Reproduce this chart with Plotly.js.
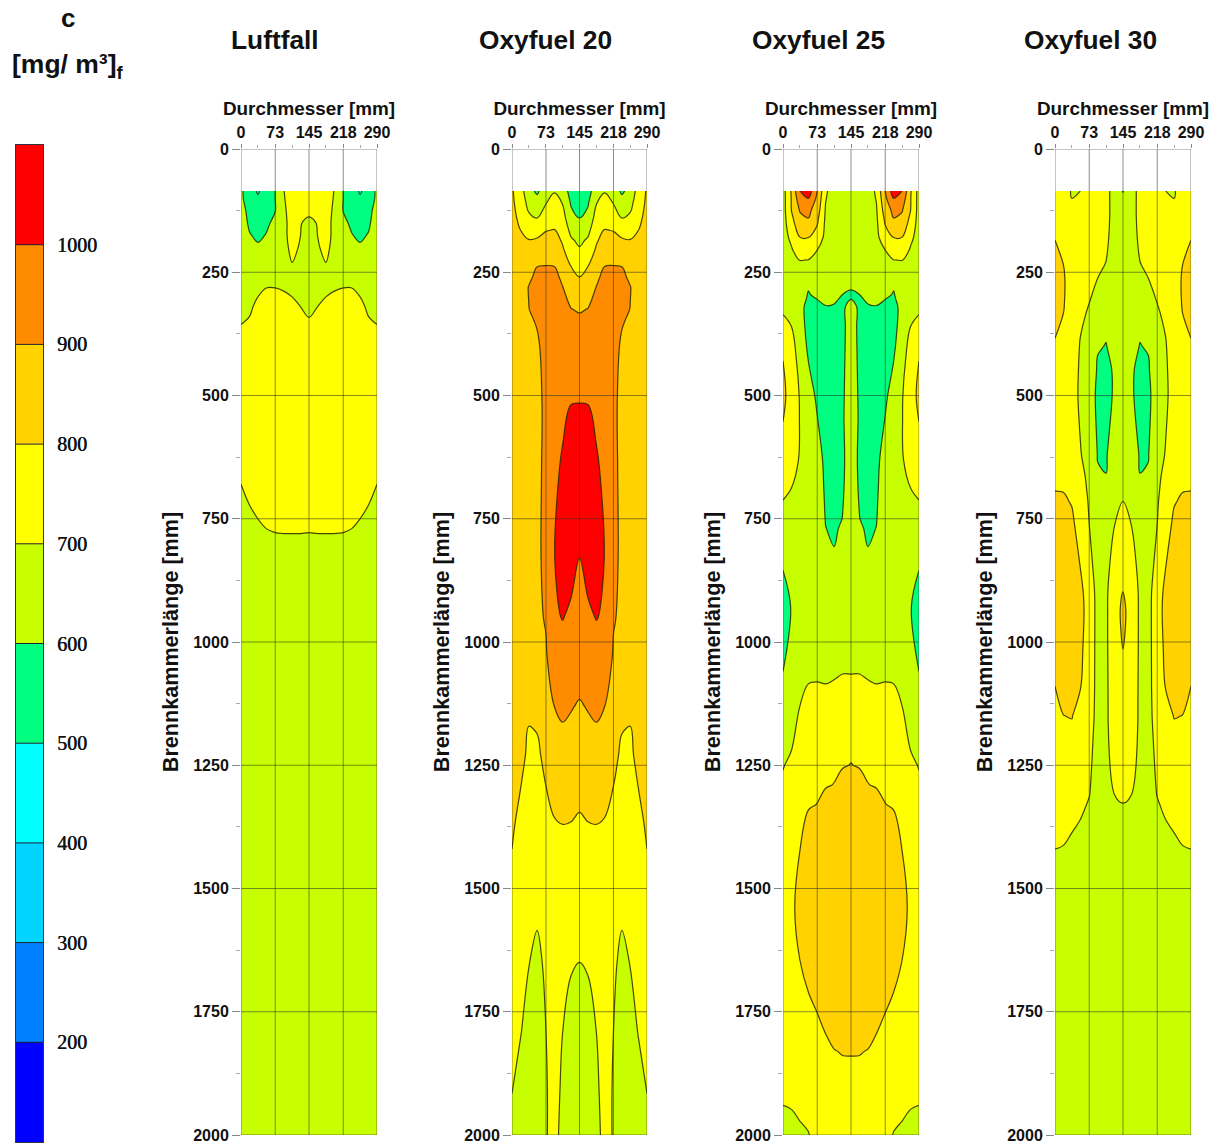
<!DOCTYPE html>
<html><head><meta charset="utf-8">
<script src="https://cdn.plot.ly/plotly-3.0.1.min.js"></script>
<style>html,body{margin:0;padding:0;background:#fff}#c{width:1216px;height:1144px}</style></head>
<body><div id="c"></div>
<script>
const panelTitles = ["Luftfall","Oxyfuel 20","Oxyfuel 25","Oxyfuel 30"];
const diameter = [0,18,36,54,73,91,109,127,145,163,181,199,218,236,254,272,290];
const xMajor = [0,73,145,218,290];
const xMinor = [36,109,181,254];
const yMajor = [0,250,500,750,1000,1250,1500,1750,2000];
const yMinor = [125,375,625,875,1125,1375,1625,1875];
const levels = [200,300,400,500,600,700,800,900,1000];
const bandMid = [150,250,350,450,550,650,750,850,950,1050];
const bandColors = ["#0000ff","#0080ff","#00d4ff","#00ffff","#00ff80","#c8ff00","#ffff00","#ffd200","#ff8c00","#ff0000"];

const lenLuft = [85,100,125,150,175,200,230,260,280,300,320,340,360,400,600,680,720,750,780,820,1000,2000];
const zLuft = [
[620,540,490,540,600,698,730,740,740,740,730,698,600,540,490,540,620],
[620,545,510,545,600,695,730,735,735,735,730,695,600,545,510,545,620],
[640,570,540,570,597,695,712,715,710,715,712,695,597,570,540,570,640],
[650,585,560,585,620,690,715,702,690,702,715,690,620,585,560,585,650],
[660,606,584,604,640,690,715,700,670,700,715,690,640,604,584,606,660],
[665,640,612,632,650,685,712,695,660,695,712,685,650,632,612,640,665],
[670,660,640,650,660,675,700,680,650,680,700,675,660,650,640,660,670],
[675,675,675,670,665,660,650,640,630,640,650,660,665,670,675,675,675],
[680,682,690,699,699,695,685,670,660,670,685,695,699,699,690,682,680],
[685,688,700,710,710,707,700,688,675,688,700,707,710,710,700,688,685],
[690,694,708,718,720,716,712,700,690,700,712,716,720,718,708,694,690],
[696,700,714,724,726,722,720,712,699,712,720,722,726,724,714,700,696],
[701,706,720,730,730,728,725,720,712,720,725,728,730,730,720,706,701],
[715,720,730,735,735,735,735,735,730,735,735,735,735,735,730,720,715],
[720,730,735,740,740,740,740,740,740,740,740,740,740,740,735,730,720],
[700,715,722,730,730,732,732,732,732,732,732,732,730,730,722,715,700],
[680,701,710,720,722,724,724,724,724,724,724,724,722,720,710,701,680],
[670,685,700,712,715,716,716,716,716,716,716,716,715,712,700,685,670],
[660,670,680,694,699,700,700,700,699,700,700,700,699,694,680,670,660],
[640,645,650,660,660,660,660,660,660,660,660,660,660,660,650,645,640],
[650,650,650,650,650,650,650,650,650,650,650,650,650,650,650,650,650],
[650,650,650,650,650,650,650,650,650,650,650,650,650,650,650,650,650]];

const len20 = [85,110,140,165,185,200,240,260,280,325,350,400,520,650,830,950,1030,1130,1165,1230,1300,1370,1420,1500,1585,1650,1790,1910,2000];
const z20 = [
[810,745,630,585,650,695,640,570,530,570,640,695,650,585,630,745,810],
[815,762,670,635,698,725,697,590,565,590,697,725,698,635,670,762,815],
[820,785,718,700,750,770,735,630,600,630,735,770,750,700,718,785,820],
[825,801,765,765,797,804,765,675,640,675,765,804,797,765,765,801,825],
[830,815,803,810,825,830,790,712,680,712,790,830,825,810,803,815,830],
[835,825,825,840,850,850,805,735,703,735,805,850,850,840,825,825,835],
[840,850,870,902,905,903,855,802,770,802,855,903,905,902,870,850,840],
[845,860,888,915,925,930,878,830,801,830,878,930,925,915,888,860,845],
[850,870,902,920,930,945,901,855,830,855,901,945,930,920,902,870,850],
[855,875,899,915,930,950,930,902,893,902,930,950,930,915,899,875,855],
[855,875,890,905,930,950,945,915,915,915,945,950,930,905,890,875,855],
[860,875,885,890,925,955,960,950,950,950,960,955,925,890,885,875,860],
[870,880,890,885,912,965,985,1001,1002,1001,985,965,912,885,890,880,870],
[870,880,890,885,915,985,1010,1030,1025,1030,1010,985,915,885,890,880,870],
[870,880,890,892,910,999,1020,1030,1000,1030,1020,999,910,892,890,880,870],
[870,880,885,888,905,990,1003,985,975,985,1003,990,905,888,885,880,870],
[860,870,865,865,893,945,965,950,945,950,965,945,893,865,865,870,860],
[845,840,815,825,840,901,915,905,893,905,915,901,840,825,815,840,845],
[840,830,801,805,830,880,899,890,875,890,899,880,830,805,801,830,840],
[830,815,790,790,815,845,865,860,845,860,865,845,815,790,790,815,830],
[818,800,780,780,798,820,830,825,815,825,830,820,798,780,780,800,818],
[808,785,770,770,780,795,800,798,792,798,800,795,780,770,770,785,808],
[800,775,760,755,770,780,785,780,780,780,785,780,770,755,760,775,800],
[785,755,740,730,750,760,765,755,750,755,765,760,750,730,740,755,785],
[765,740,720,700,730,740,745,730,720,730,745,740,730,700,720,740,765],
[750,730,702,680,715,730,730,707,700,707,730,730,715,680,702,730,750],
[725,703,680,665,700,715,700,670,660,670,700,715,700,665,680,703,725],
[701,680,660,650,698,710,695,650,645,650,695,710,698,650,660,680,701],
[685,670,650,645,698,710,690,645,640,645,690,710,698,645,650,670,685]];

const len25 = [85,100,125,140,155,180,205,225,250,285,295,305,320,360,430,500,545,630,690,712,750,770,810,855,930,1060,1085,1130,1220,1250,1290,1330,1430,1540,1645,1710,1750,1795,1830,1940,1975,2000];
const z25 = [
[660,810,1000,1060,900,715,650,650,650,650,650,715,900,1060,1000,810,660],
[660,805,960,1000,880,705,650,650,650,650,650,705,880,1000,960,805,660],
[660,800,905,925,845,690,650,650,650,650,650,690,845,925,905,800,660],
[660,779,880,900,820,685,650,650,650,650,650,685,820,900,880,779,660],
[660,757,858,875,799,680,650,650,650,650,650,680,799,875,858,757,660],
[660,721,797,799,765,670,650,650,650,650,650,670,765,799,797,721,660],
[660,690,750,755,700,665,650,650,650,650,650,665,700,755,750,690,660],
[665,675,702,699,690,660,650,650,650,650,650,660,690,699,702,675,665],
[670,665,670,660,670,650,645,640,635,640,645,650,670,660,670,665,670],
[680,665,650,602,640,630,628,610,601,610,628,630,640,602,650,665,680],
[683,667,648,594,620,620,617,600,590,600,617,620,620,594,648,667,683],
[685,670,645,585,600,610,605,595,600,595,605,610,600,585,645,670,685],
[692,675,630,570,580,598,597,590,620,590,597,598,580,570,630,675,692],
[712,700,635,575,565,575,570,585,630,585,570,575,565,575,635,700,712],
[800,730,680,600,575,560,550,585,640,585,550,560,575,600,680,730,800],
[825,750,695,620,592,565,550,590,640,590,550,565,592,620,695,750,825],
[805,750,697,630,601,570,550,592,640,592,550,570,601,630,697,750,805],
[750,725,695,640,625,585,560,590,630,590,560,585,625,640,695,725,750],
[715,699,680,640,635,590,570,595,625,595,570,590,635,640,680,699,715],
[700,680,670,640,640,592,575,597,625,597,575,592,640,640,670,680,700],
[660,650,650,640,640,597,585,601,630,601,585,597,640,640,650,650,660],
[640,640,645,640,640,601,590,610,635,610,590,601,640,640,645,640,640],
[610,630,640,640,640,625,601,630,640,630,601,625,640,640,640,630,610],
[600,625,640,640,640,635,625,640,645,640,625,635,640,640,640,625,600],
[550,605,640,640,640,640,640,645,650,645,640,640,640,640,640,605,550],
[600,635,650,660,690,685,690,697,697,697,690,685,690,660,650,635,600],
[610,645,665,700,702,700,705,712,712,712,705,700,702,700,665,645,610],
[640,670,700,730,735,735,745,755,760,755,745,735,735,730,700,670,640],
[685,700,730,770,770,775,785,790,795,790,785,775,770,770,730,700,685],
[695,720,750,780,780,787,793,797,801,797,793,787,780,780,750,720,695],
[715,745,770,790,790,797,801,815,820,815,801,797,790,790,770,745,715],
[730,760,785,795,801,815,825,835,840,835,825,815,801,795,785,760,730],
[745,780,801,840,850,860,870,880,885,880,870,860,850,840,801,780,745],
[750,780,831,870,880,890,895,897,898,897,895,890,880,870,831,780,750],
[750,775,800,830,850,860,875,885,890,885,875,860,850,830,800,775,750],
[745,765,780,800,815,835,855,865,870,865,855,835,815,800,780,765,745],
[740,755,770,785,801,815,835,850,855,850,835,815,801,785,770,755,740],
[730,745,755,765,780,800,815,825,830,825,815,800,780,765,755,745,730],
[720,735,745,750,765,780,798,803,803,803,798,780,765,750,745,735,720],
[700,703,710,720,735,745,755,765,770,765,755,745,735,720,710,703,700],
[690,690,699,705,725,735,745,755,760,755,745,735,725,705,699,690,690],
[680,680,690,698,715,725,735,745,750,745,735,725,715,698,690,680,680]];

const len30 = [85,100,135,185,235,262,313,333,384,400,448,500,590,620,665,697,715,760,850,900,935,1014,1090,1150,1160,1310,1327,1360,1390,1420,1500,2000];
const z30 = [
[740,735,693,700,725,720,715,680,595,680,715,720,725,700,693,735,740],
[745,745,700,720,730,720,715,680,620,680,715,720,730,720,700,745,745],
[770,760,720,740,735,720,715,680,640,680,715,720,735,740,720,760,770],
[800,785,745,745,730,715,710,675,650,675,710,715,730,745,745,785,800],
[820,800,765,745,725,710,698,670,655,670,698,710,725,745,765,800,820],
[825,806,770,740,715,700,685,660,655,660,685,700,715,740,770,806,825],
[820,804,770,725,700,670,655,645,655,645,655,670,700,725,770,804,820],
[815,800,768,718,690,655,640,640,655,640,640,655,690,718,768,800,815],
[800,780,755,699,670,612,602,625,650,625,602,612,670,699,755,780,800],
[790,775,745,695,665,605,598,622,650,622,598,605,665,695,745,775,790],
[770,760,735,690,655,592,580,610,650,610,580,592,655,690,735,760,770],
[760,755,730,688,650,580,575,610,650,610,575,580,650,688,730,755,760],
[765,760,740,700,660,592,590,625,655,625,590,592,660,700,740,760,765],
[770,765,745,705,665,597,595,635,660,635,595,597,665,705,745,765,770],
[790,785,765,725,680,606,601,650,680,650,601,606,680,725,765,785,790],
[801,800,785,735,688,650,640,660,695,660,640,650,688,735,785,800,801],
[810,810,795,745,692,650,650,670,700,670,650,650,692,745,795,810,810],
[835,830,815,765,700,655,660,698,735,698,660,655,700,765,815,830,835],
[860,855,840,800,730,660,670,745,785,745,670,660,730,800,840,855,860],
[860,860,850,815,770,660,680,780,801,780,680,660,770,815,850,860,860],
[860,860,850,815,779,660,680,790,805,790,680,660,779,815,850,860,860],
[845,850,840,810,775,660,680,785,800,785,680,660,775,810,840,850,845],
[800,825,815,803,770,660,680,770,785,770,680,660,770,803,815,825,800],
[770,799,803,770,755,660,680,765,775,765,680,660,755,770,803,799,770],
[768,795,798,765,750,660,680,765,775,765,680,660,750,765,798,795,768],
[715,730,730,720,702,670,675,700,715,700,675,670,702,720,730,730,715],
[712,720,720,715,695,665,665,680,700,680,665,665,695,715,720,720,712],
[708,710,710,700,680,660,650,660,665,660,650,660,680,700,710,710,708],
[704,706,699,680,670,655,650,650,655,650,650,655,670,680,699,706,704],
[700,698,680,670,660,650,650,650,650,650,650,650,660,670,680,698,700],
[680,680,670,660,655,650,650,650,650,650,650,650,655,660,670,680,680],
[650,650,650,650,650,650,650,650,650,650,650,650,650,650,650,650,650]];

const W=1216,H=1144;
const plotLeft=[241,512,783,1055], plotRight=[377,647,919,1191], plotTop=149, plotBottom=1135;
const titleCx=[275,545.5,818,1090];
const lens=[lenLuft,len20,len25,len30], zs=[zLuft,z20,z25,z30];
const scale=bandColors.map((c,i)=>[i/(bandColors.length-1),c]);
const FONT="Liberation Sans, Arial, sans-serif";
const gridCol="rgba(45,45,45,0.55)";
const traces=[],shapes=[],annotations=[];
const layout={width:W,height:H,margin:{l:0,r:0,t:0,b:0},paper_bgcolor:"#fff",plot_bgcolor:"#fff",showlegend:false};
const suffix=i=>i===0?"":String(i+1);
zs.forEach((z,i)=>{
  const s=suffix(i);
  traces.push({type:"contour",x:diameter,y:lens[i],z:z,xaxis:"x"+s,yaxis:"y"+s,showscale:false,hoverinfo:"z",
    autocontour:false,contours:{start:levels[0],end:levels[levels.length-1],size:100,coloring:"fill",showlines:true},
    colorscale:scale,line:{color:"rgba(40,40,0,0.85)",width:1.2,smoothing:1}});
  layout["xaxis"+s]={domain:[plotLeft[i]/W,plotRight[i]/W],range:[0,290],side:"top",anchor:"y"+s,showgrid:false,zeroline:false,showline:false,
    tickmode:"array",tickvals:xMajor,ticktext:xMajor.map(String),ticks:"outside",ticklen:4,tickcolor:"#888",tickwidth:1,
    tickfont:{family:FONT,size:16,color:"#111",weight:"bold"},
    minor:{tickmode:"array",tickvals:xMinor,ticks:"outside",ticklen:3,tickcolor:"#aaa",tickwidth:1,showgrid:false},
    title:{text:"Durchmesser [mm]",font:{family:FONT,size:18.9,color:"#111",weight:"bold"},standoff:2}};
  layout["yaxis"+s]={domain:[1-plotBottom/H,1-plotTop/H],range:[2000,0],anchor:"x"+s,showgrid:false,zeroline:false,showline:false,
    tickmode:"array",tickvals:yMajor,ticktext:yMajor.map(String),ticks:"outside",ticklen:8,tickcolor:"#888",tickwidth:1,
    tickfont:{family:FONT,size:16,color:"#111",weight:"bold"},
    minor:{tickmode:"array",tickvals:yMinor,ticks:"outside",ticklen:4,tickcolor:"#aaa",tickwidth:1,showgrid:false},
    title:{text:"Brennkammerlänge [mm]",font:{family:FONT,size:21.6,color:"#111",weight:"bold"},standoff:8}};
  xMajor.forEach(v=>shapes.push({type:"line",layer:"above",xref:"x"+s,yref:"y"+s,x0:v,x1:v,y0:0,y1:2000,line:{color:gridCol,width:1}}));
  yMajor.forEach(v=>shapes.push({type:"line",layer:"above",xref:"x"+s,yref:"y"+s,x0:0,x1:290,y0:v,y1:v,line:{color:gridCol,width:1}}));
  annotations.push({xref:"paper",yref:"paper",x:titleCx[i]/W,y:1-40/H,xanchor:"center",yanchor:"middle",showarrow:false,
    text:panelTitles[i],font:{family:FONT,size:26.3,color:"#111",weight:"bold"}});
});
// colour scale bar
traces.push({type:"heatmap",x:[0],y:bandMid,z:bandMid.map(v=>[v]),zmin:bandMid[0],zmax:bandMid[bandMid.length-1],colorscale:scale,showscale:false,xaxis:"x5",yaxis:"y5",hoverinfo:"z"});
layout.xaxis5={domain:[16/W,43/W],range:[-0.5,0.5],anchor:"y5",showticklabels:false,ticks:"",showgrid:false,zeroline:false,showline:true,mirror:true,linecolor:"#334",linewidth:1};
layout.yaxis5={domain:[1-1142/H,1-145/H],range:[100,1100],anchor:"x5",side:"right",showgrid:false,zeroline:false,showline:true,mirror:true,linecolor:"#334",linewidth:1,
  tickmode:"array",tickvals:levels,ticktext:levels.map(String),ticks:"outside",ticklen:9,tickcolor:"rgba(0,0,0,0)",
  tickfont:{family:"Liberation Serif, serif",size:20,color:"#111",shadow:"0.4px 0 0 #111"}};
levels.forEach(v=>shapes.push({type:"line",layer:"above",xref:"x5",yref:"y5",x0:-0.5,x1:0.5,y0:v,y1:v,line:{color:"#223",width:1}}));
annotations.push({xref:"paper",yref:"paper",x:68/W,y:1-18/H,xanchor:"center",yanchor:"middle",showarrow:false,text:"c",font:{family:FONT,size:26,color:"#111",weight:"bold"}});
annotations.push({xref:"paper",yref:"paper",x:68/W,y:1-66/H,xanchor:"center",yanchor:"middle",showarrow:false,text:"[mg/ m³]<sub>f</sub>",font:{family:FONT,size:26.5,color:"#111",weight:"bold"}});
layout.shapes=shapes;layout.annotations=annotations;
Plotly.newPlot("c",traces,layout,{displayModeBar:false,staticPlot:true});
</script></body></html>
